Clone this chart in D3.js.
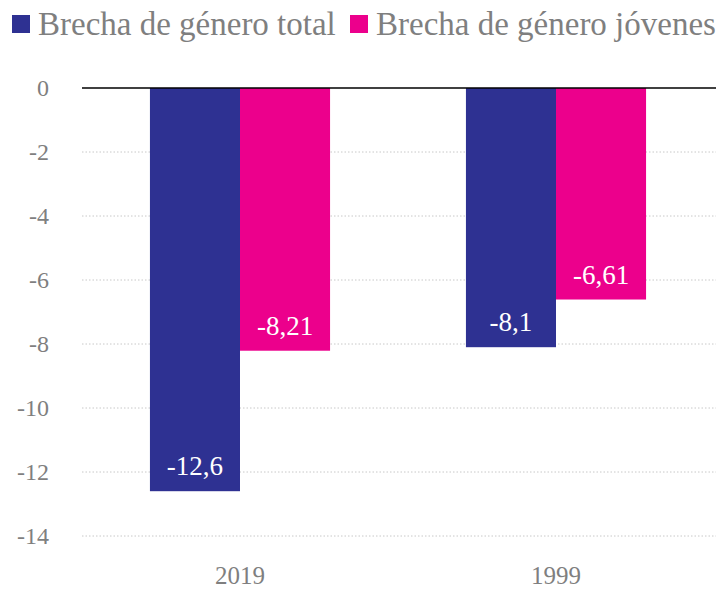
<!DOCTYPE html>
<html>
<head>
<meta charset="utf-8">
<script src="https://cdn.jsdelivr.net/npm/d3@7"></script>
<style>
  body { margin: 0; background: #fff; }
  text { font-family: "Liberation Serif", "DejaVu Serif", serif; }
</style>
</head>
<body>
<script>
const [width, height] = [716, 591]
const margin = {top: 88, right: 2, bottom: 55, left: 82}

const years = ["2019", "1999"]
const seriesNames = ["Brecha de género total", "Brecha de género jóvenes"]
const seriesColors = ["#2e3192", "#ec008c"]
const totalGap = [-12.6, -8.1]
const youthGap = [-8.21, -6.61]
const yTicks = [0, -2, -4, -6, -8, -10, -12, -14]

const rows = years.map((year, i) => ({year, values: [totalGap[i], youthGap[i]]}))

const svg = d3.select("body")
  .append("svg")
  .attr("width", width)
  .attr("height", height)

const x = d3.scaleBand()
  .domain(years)
  .range([margin.left, width - margin.right])
  .paddingInner(0.43)
  .paddingOuter(0.215)

const xSub = d3.scaleBand()
  .domain([0, 1])
  .range([0, x.bandwidth()])

const y = d3.scaleLinear()
  .domain([0, -14])
  .range([margin.top, height - margin.bottom])

// dotted gridlines
svg.append("g")
  .selectAll("line")
  .data(yTicks.filter(d => d !== 0))
  .enter()
  .append("line")
    .attr("x1", margin.left)
    .attr("x2", width)
    .attr("y1", d => y(d))
    .attr("y2", d => y(d))
    .attr("stroke", "#c8c8c8")
    .attr("stroke-width", 1)
    .attr("stroke-dasharray", "1.5,2")

// y axis labels
const yAxis = svg.append("g")
  .attr("transform", `translate(${margin.left - 30},0)`)
  .call(d3.axisLeft(y).tickValues(yTicks).tickSize(0).tickFormat(d => d))
yAxis.select(".domain").remove()
yAxis.selectAll("text")
  .attr("font-size", "24px")
  .attr("font-family", "Liberation Serif, serif")
  .attr("fill", "#7f7f7f")
  .attr("dx", "0")

// bars
const groups = svg.selectAll(".grp")
  .data(rows)
  .enter()
  .append("g")
    .attr("transform", d => `translate(${x(d.year)},0)`)

groups.selectAll("rect")
  .data(d => d.values)
  .enter()
  .append("rect")
    .attr("x", (d, i) => xSub(i))
    .attr("width", xSub.bandwidth())
    .attr("y", y(0))
    .attr("height", d => y(d) - y(0))
    .attr("fill", (d, i) => seriesColors[i])

groups.selectAll("text")
  .data(d => d.values)
  .enter()
  .append("text")
    .text(d => String(d).replace(".", ","))
    .attr("x", (d, i) => xSub(i) + xSub.bandwidth() / 2)
    .attr("y", d => y(d) - 16)
    .attr("text-anchor", "middle")
    .attr("font-size", "27px")
    .attr("fill", "white")

// zero line
svg.append("line")
  .attr("x1", margin.left)
  .attr("x2", width)
  .attr("y1", y(0))
  .attr("y2", y(0))
  .attr("stroke", "black")
  .attr("stroke-width", 1.5)

// x axis labels
const xAxis = svg.append("g")
  .attr("transform", `translate(0,${height - 10})`)
  .call(d3.axisBottom(x).tickSize(0))
xAxis.select(".domain").remove()
xAxis.selectAll("text")
  .attr("font-size", "25px")
  .attr("font-family", "Liberation Serif, serif")
  .attr("fill", "#7f7f7f")
  .attr("dy", "0")

// legend
const legendX = [12, 350]
const legend = svg.selectAll(".legend")
  .data(seriesNames)
  .enter()
  .append("g")
    .attr("transform", (d, i) => `translate(${legendX[i]},0)`)
legend.append("rect")
  .attr("x", 0)
  .attr("y", 15)
  .attr("width", 18)
  .attr("height", 18)
  .attr("fill", (d, i) => seriesColors[i])
legend.append("text")
  .text(d => d)
  .attr("x", 26)
  .attr("y", 35)
  .attr("font-size", "33px")
  .attr("fill", "#7f7f7f")
</script>
</body>
</html>
